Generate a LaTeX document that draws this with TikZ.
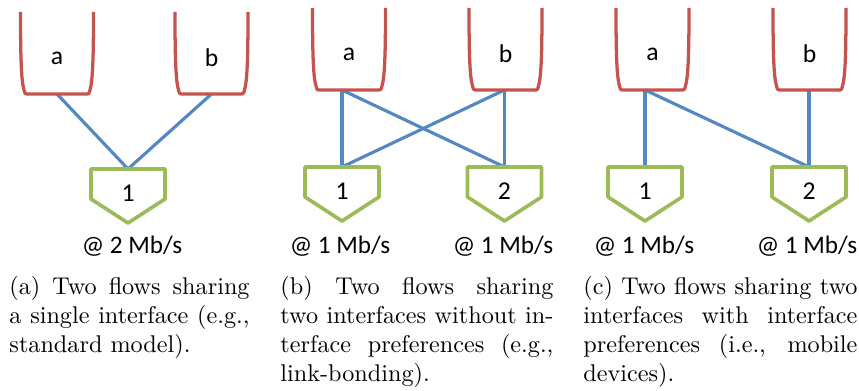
\documentclass[tikz,border=0pt]{standalone}
\usepackage{fontspec}
\newfontfamily\labelfont{Carlito}
\usetikzlibrary{backgrounds}
\definecolor{queuered}{RGB}{196,84,80}
\definecolor{linkblue}{RGB}{84,136,196}
\definecolor{ifacegreen}{RGB}{155,187,89}
\tikzset{
  queueline/.style={draw=queuered, line width=1.35pt},
  ifaceline/.style={draw=ifacegreen, line width=1.5pt, line join=round},
  linkline/.style={draw=linkblue, line width=1.3pt},
  smalllabel/.style={font=\labelfont\fontsize{10.6}{12}\selectfont, inner sep=0pt},
  ratelabel/.style={font=\labelfont\fontsize{10.4}{12}\selectfont, inner sep=0pt, anchor=base},
  caption/.style={font=\fontsize{10}{11.98}\selectfont, align=justify, inner sep=0pt, anchor=base west},
  queue/.pic={
    \draw[queueline] (-36.5,-41) .. controls (-36.5,10) and (-35.5,28) .. (-33,37)
      .. controls (-32,41) .. (-28,41) -- (28,41)
      .. controls (32,41) .. (33,37)
      .. controls (35.5,28) and (36.5,10) .. (36.5,-41);
    \coordinate (-s) at (0,41);
    \node[smalllabel] (-lbl) at (0,5) {#1};
  },
  iface/.pic={
    \draw[ifaceline] (-37,0) -- (37,0) -- (37,30) -- (0,54) -- (-37,30) -- cycle;
    \coordinate (-n) at (0,0);
    \node[smalllabel] (-lbl) at (0,24) {#1};
  },
}
\begin{document}
\begin{tikzpicture}[x=0.4132pt, y=-0.4132pt]
\useasboundingbox (0,0) rectangle (859,391);

% (a) one interface shared by both flows
\pic (aqa) at (57,53) {queue=a};
\pic (aqb) at (211.5,53) {queue=b};
\pic (ai1) at (128,169) {iface=1};
\node[ratelabel] (ar1) at (132,254) {@ 2 Mb/s};

% (b) two interfaces, every flow on both
\pic (bqa) at (349,49) {queue=a};
\pic (bqb) at (505.5,49) {queue=b};
\pic (bi1) at (342,167) {iface=1};
\pic (bi2) at (504.5,167) {iface=2};
\node[ratelabel] (br1) at (340,254) {@ 1 Mb/s};
\node[ratelabel] (br2) at (503,254) {@ 1 Mb/s};

% (c) two interfaces with preferences
\pic (cqa) at (652.5,49) {queue=a};
\pic (cqb) at (809.5,49) {queue=b};
\pic (ci1) at (645,167) {iface=1};
\pic (ci2) at (809,167) {iface=2};
\node[ratelabel] (cr1) at (644,254) {@ 1 Mb/s};
\node[ratelabel] (cr2) at (807,254) {@ 1 Mb/s};

\begin{scope}[on background layer]
  \draw[linkline] (aqa-s) -- (ai1-n);
  \draw[linkline] (aqb-s) -- (ai1-n);

  \draw[linkline] (bqa-s -| bi1-n) -- (bi1-n);
  \draw[linkline] (bqa-s -| bi1-n) -- (bi2-n);
  \draw[linkline] (bqb-s -| bi2-n) -- (bi1-n);
  \draw[linkline] (bqb-s -| bi2-n) -- (bi2-n);

  \draw[linkline] (cqa-s -| ci1-n) -- (ci1-n);
  \draw[linkline] (cqa-s -| ci1-n) -- (ci2-n);
  \draw[linkline] (cqb-s -| ci2-n) -- (ci2-n);
\end{scope}

% sub-captions
\node[caption, text width=99.2pt] (capa) at (9,295)
  {(a) Two flows sharing\linebreak a single interface (e.g.,\linebreak standard model).};
\node[caption, text width=112.8pt] (capb) at (280,295)
  {(b) Two flows sharing\linebreak two interfaces without in-\linebreak terface preferences (e.g.,\linebreak link-bonding).};
\node[caption, text width=113.2pt] (capc) at (583,295)
  {(c) Two flows sharing two\linebreak interfaces with interface\linebreak preferences (i.e., mobile\linebreak devices).};
\end{tikzpicture}
\end{document}
